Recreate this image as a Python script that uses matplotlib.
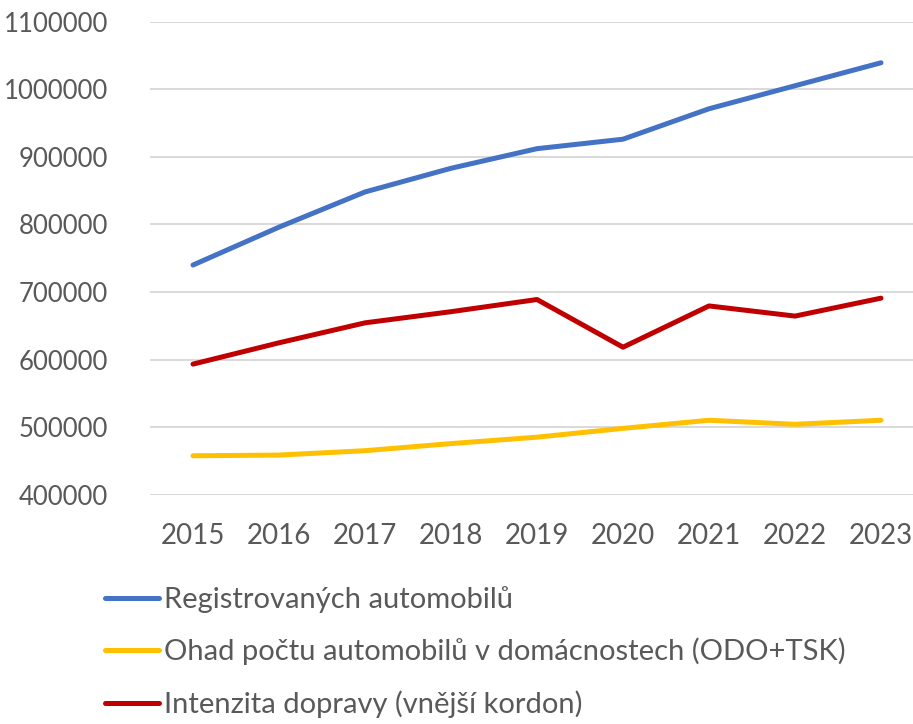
import matplotlib.pyplot as plt
from matplotlib.ticker import StrMethodFormatter

years = [2015, 2016, 2017, 2018, 2019, 2020, 2021, 2022, 2023]

series = {
    "Registrovaných automobilů": (
        [740000, 796000, 848000, 883000, 912000, 926000, 971000, 1005000, 1039000],
        "#4472C4",
    ),
    "Ohad počtu automobilů v domácnostech (ODO+TSK)": (
        [458000, 459000, 465500, 476000, 485500, 498500, 510500, 504500, 510500],
        "#FFC000",
    ),
    "Intenzita dopravy (vnější kordon)": (
        [593500, 625000, 654500, 671000, 689000, 618500, 679500, 664500, 691000],
        "#C00000",
    ),
}

plt.rcParams["font.family"] = ["Lato", "DejaVu Sans"]
text_color = "#595959"

fig = plt.figure(figsize=(9.13, 7.24), dpi=100)
ax = fig.add_axes([150 / 913, 1 - 495 / 724, 763 / 913, 473.5 / 724])

# Lines
for label, (vals, color) in series.items():
    ax.plot(years, vals, color=color, lw=3.6, label=label,
            solid_capstyle="round", solid_joinstyle="round", zorder=3)

ax.set_ylim(400000, 1100000)
ax.set_xlim(2014.5, 2014.5 + 763 / 86)
ax.set_yticks(range(400000, 1100001, 100000))
ax.yaxis.set_major_formatter(StrMethodFormatter("{x:.0f}"))
ax.set_xticks(years)
ax.grid(axis="y", color="#D9D9D9", lw=1.4)
ax.set_axisbelow(True)
for s in ax.spines.values():
    s.set_visible(False)
ax.tick_params(length=0, colors=text_color)
ax.tick_params(axis="y", pad=30, labelsize=18.5)
ax.tick_params(axis="x", pad=20, labelsize=20)

# Legend
fig.legend(loc="upper left", bbox_to_anchor=(105 / 913, 1 - 586 / 724),
           frameon=False, fontsize=21, labelcolor=text_color,
           handlelength=1.85, handletextpad=0.17, labelspacing=0.85,
           borderaxespad=0, borderpad=0)

fig.savefig("out.png", dpi=100)
